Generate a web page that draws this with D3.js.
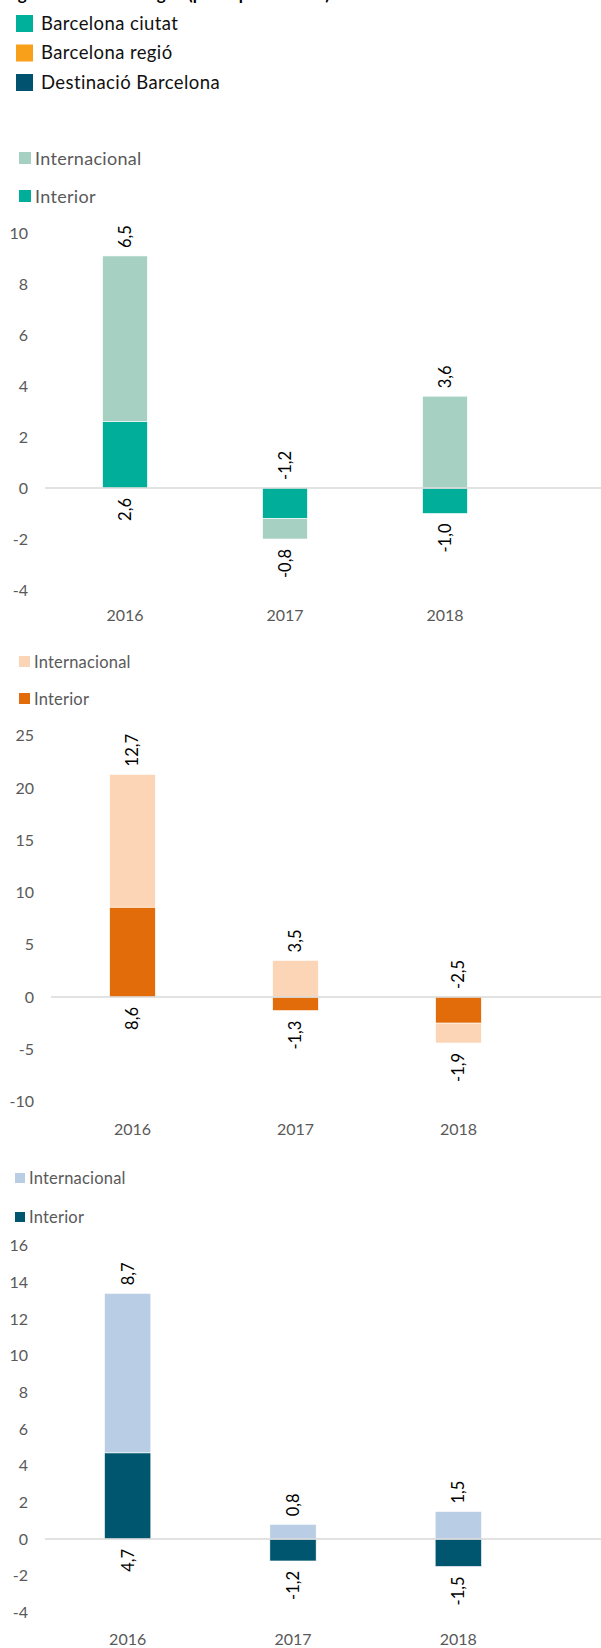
<!DOCTYPE html>
<html>
<head>
<meta charset="utf-8">
<script src="https://cdn.jsdelivr.net/npm/d3@7"></script>
<style>
  body { margin: 0; background: #fff; }
  svg { display: block; font-family: Lato, "Open Sans", sans-serif; }
</style>
</head>
<body>
<svg id="chart" width="601" height="1648"></svg>
<script>
// categories
var years = ["2016", "2017", "2018"];
var seriesKeys = ["Interior", "Internacional"];
var destinations = ["Barcelona ciutat", "Barcelona regió", "Destinació Barcelona"];

// values (punts percentuals)
var ciutatInterior = [2.6, -1.2, -1.0];
var ciutatInternacional = [6.5, -0.8, 3.6];
var regioInterior = [8.6, -1.3, -2.5];
var regioInternacional = [12.7, 3.5, -1.9];
var destInterior = [4.7, -1.2, -1.5];
var destInternacional = [8.7, 0.8, 1.5];

// tick labels
var ticksCiutat = [-4, -2, 0, 2, 4, 6, 8, 10];
var ticksRegio = [-10, -5, 0, 5, 10, 15, 20, 25];
var ticksDest = [-4, -2, 0, 2, 4, 6, 8, 10, 12, 14, 16];

var svg = d3.select("#chart");

// cropped title (only the descenders show at the top)
svg.append("text").attr("x", 4).attr("y", -0.5)
    .attr("font-size", "17px").attr("font-weight", "bold").attr("fill", "#000")
    .attr("textLength", 326).attr("lengthAdjust", "spacingAndGlyphs")
    .text("Figura 2. Variació origen (punts percentuals)");

// main legend
var mainColors = ["#00b09b", "#f9a01b", "#00526e"];
var mainLeg = svg.append("g").selectAll("g").data(destinations).enter().append("g")
    .attr("transform", function (d, i) { return "translate(16," + (15 + i * 29.5) + ")"; });
mainLeg.append("rect").attr("width", 17).attr("height", 17)
    .attr("fill", function (d, i) { return mainColors[i]; });
mainLeg.append("text").attr("x", 25).attr("y", 14.5).attr("font-size", "18.5px")
    .attr("letter-spacing", "0.4px").attr("fill", "#111")
    .text(function (d) { return d; });

var panels = [
    {interior: ciutatInterior, intl: ciutatInternacional, ticks: ticksCiutat,
        colInt: "#00ae9a", colIntl: "#a6d0c2", domain: [-4, 10], yRange: [590, 233],
        xRange: [45, 525], labelRight: 28, xLabelY: 621,
        legX: 19, legY: [152, 190], legSize: 12, legFont: "18px", legSpacing: "0.3px"},
    {interior: regioInterior, intl: regioInternacional, ticks: ticksRegio,
        colInt: "#e36c0a", colIntl: "#fbd5b5", domain: [-10, 25], yRange: [1101.5, 735.75],
        xRange: [51, 540], labelRight: 34, xLabelY: 1135,
        legX: 19, legY: [656, 693], legSize: 11, legFont: "16.5px", legSpacing: "0.2px"},
    {interior: destInterior, intl: destInternacional, ticks: ticksDest,
        colInt: "#00556f", colIntl: "#b9cde5", domain: [-4, 16], yRange: [1612.3, 1245.7],
        xRange: [45, 541], labelRight: 28, xLabelY: 1644.5,
        legX: 15, legY: [1173, 1212], legSize: 10, legFont: "16.5px", legSpacing: "0.2px"}
];

function fmt(v) { return v.toFixed(1).replace(".", ","); }

panels.forEach(function (p) {
    var g = svg.append("g");
    var table = years.map(function (yr, i) {
        return {year: yr, Interior: p.interior[i], Internacional: p.intl[i]};
    });
    var stacked = d3.stack().keys(seriesKeys).offset(d3.stackOffsetDiverging)(table);

    var x = d3.scaleBand().domain(years).range(p.xRange).paddingInner(0.72).paddingOuter(0.36);
    var y = d3.scaleLinear().domain(p.domain).range(p.yRange);

    // legend (Internacional on top, Interior below)
    var legItems = [["Internacional", p.colIntl], ["Interior", p.colInt]];
    legItems.forEach(function (it, i) {
        g.append("rect").attr("x", p.legX).attr("y", p.legY[i])
            .attr("width", p.legSize).attr("height", p.legSize).attr("fill", it[1]);
        g.append("text").attr("x", p.legX + p.legSize + 4).attr("y", p.legY[i] + p.legSize + 0.5)
            .attr("font-size", p.legFont).attr("letter-spacing", p.legSpacing)
            .attr("fill", "#595959").text(it[0]);
    });

    // y axis labels
    var yAxis = g.append("g").attr("transform", "translate(" + p.labelRight + ",0)")
        .call(d3.axisLeft(y).tickValues(p.ticks).tickSize(0).tickPadding(0)
            .tickFormat(function (d) { return String(d); }));
    yAxis.select(".domain").remove();
    yAxis.selectAll("text").attr("fill", "#595959").attr("font-size", "16px")
        .attr("font-family", "Lato, sans-serif");

    // bars
    var colors = {Interior: p.colInt, Internacional: p.colIntl};
    g.selectAll(".serie").data(stacked).enter().append("g")
        .attr("fill", function (s) { return colors[s.key]; })
        .selectAll("rect").data(function (s) { return s; }).enter().append("rect")
        .attr("x", function (d) { return x(d.data.year); })
        .attr("width", x.bandwidth())
        .attr("y", function (d) { return y(Math.max(d[0], d[1])); })
        .attr("height", function (d) { return Math.abs(y(d[0]) - y(d[1])); })
        .attr("stroke", "#fff").attr("stroke-width", 0.6);

    // zero line
    g.append("line").attr("x1", p.xRange[0]).attr("x2", 601)
        .attr("y1", y(0)).attr("y2", y(0))
        .attr("stroke", "#d9d9d9").attr("stroke-width", 1.5);

    // x labels
    var xAxis = g.append("g").attr("transform", "translate(0," + p.xLabelY + ")")
        .call(d3.axisBottom(x).tickSize(0).tickPadding(0));
    xAxis.select(".domain").remove();
    xAxis.selectAll("text").attr("fill", "#595959").attr("font-size", "16px")
        .attr("font-family", "Lato, sans-serif").attr("dy", "0");

    // data labels
    var labels = [];
    table.forEach(function (d) {
        var intl = d.Internacional, inter = d.Interior;
        var cx = x(d.year) + x.bandwidth() / 2;
        if (intl >= 0) {
            labels.push({v: intl, cx: cx, at: y(Math.max(0, inter) + intl), up: true});
            labels.push({v: inter, cx: cx, at: y(Math.min(0, inter)), up: false});
        } else {
            labels.push({v: intl, cx: cx, at: y(Math.min(0, inter) + intl), up: false});
            labels.push({v: inter, cx: cx, at: y(Math.max(0, inter)), up: true});
        }
    });
    g.selectAll(".lbl").data(labels).enter().append("text")
        .attr("class", "lbl")
        .attr("transform", function (d) {
            var yy = d.up ? d.at - 8 : d.at + 10;
            return "translate(" + d.cx + "," + yy + ") rotate(-90)";
        })
        .attr("text-anchor", function (d) { return d.up ? "start" : "end"; })
        .attr("dy", "0.36em")
        .attr("font-size", "16.5px").attr("fill", "#000")
        .text(function (d) { return fmt(d.v); });
});
</script>
</body>
</html>
